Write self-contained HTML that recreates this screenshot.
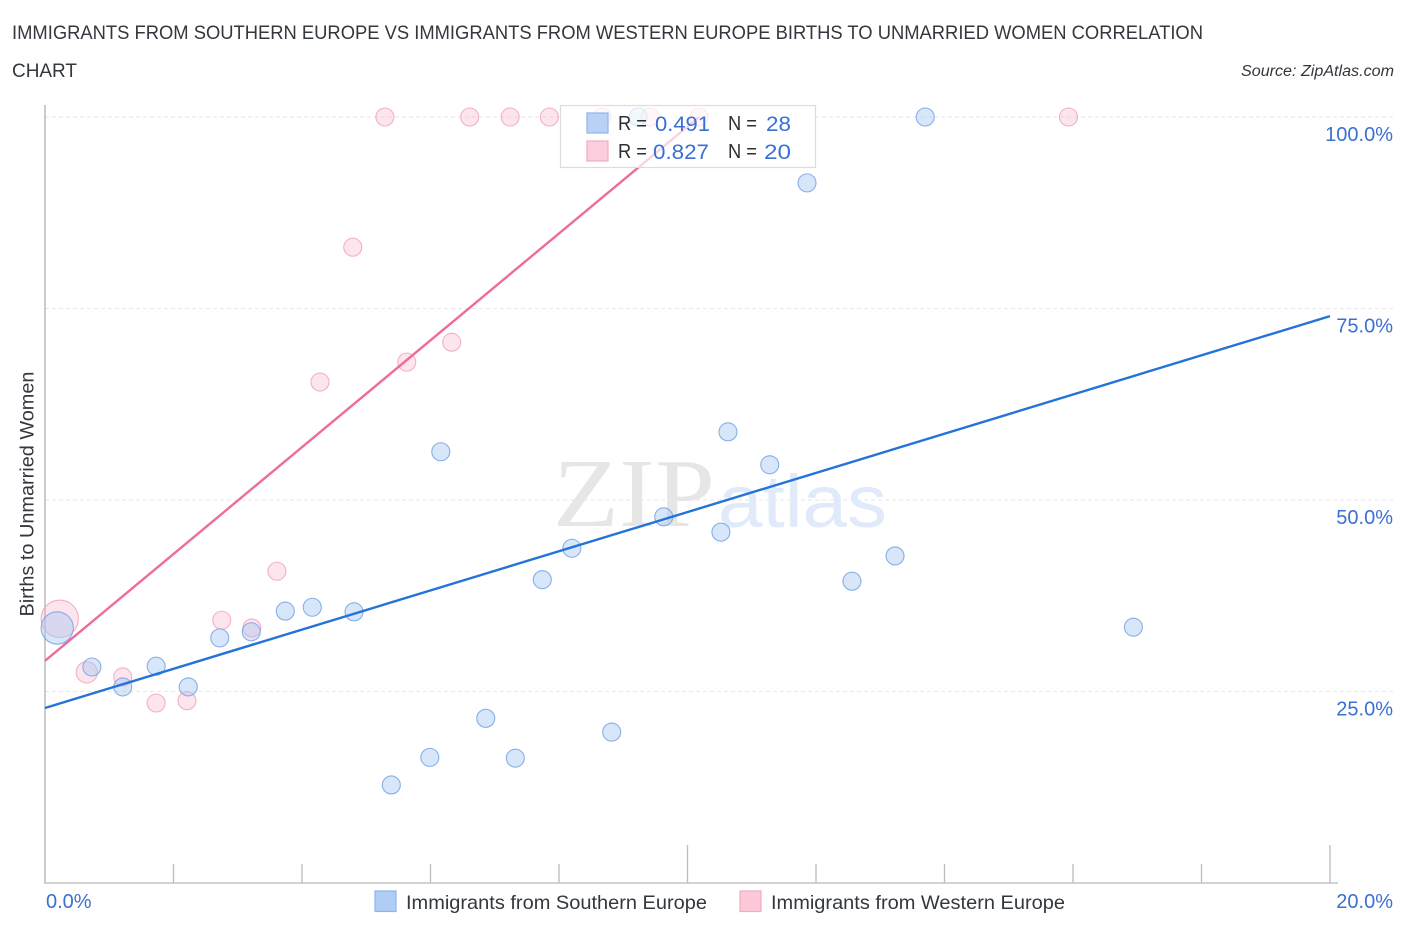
<!DOCTYPE html>
<html>
<head>
<meta charset="utf-8">
<title>Births to Unmarried Women Correlation Chart</title>
<style>
html,body{margin:0;padding:0;background:#fff;width:1406px;height:930px;overflow:hidden}
svg{display:block;font-family:"Liberation Sans",sans-serif}
</style>
</head>
<body>
<svg id="chart" xmlns="http://www.w3.org/2000/svg" width="1406" height="930" viewBox="0 0 1406 930">
  <text x="12" y="39" font-size="19.5" fill="#33373e" textLength="1191" lengthAdjust="spacingAndGlyphs">IMMIGRANTS FROM SOUTHERN EUROPE VS IMMIGRANTS FROM WESTERN EUROPE BIRTHS TO UNMARRIED WOMEN CORRELATION</text>
  <text x="12" y="77" font-size="19.5" fill="#33373e" textLength="65" lengthAdjust="spacingAndGlyphs">CHART</text>
  <text x="1241" y="76" font-size="15.5" font-style="italic" fill="#33363c" textLength="153" lengthAdjust="spacingAndGlyphs">Source: ZipAtlas.com</text>

  <g id="grid"></g>

  <g>
    <text x="553" y="526" font-family="'Liberation Serif',serif" font-size="97" fill="#e6e6e6" textLength="162" lengthAdjust="spacingAndGlyphs">ZIP</text>
    <text x="718" y="527" font-family="'Liberation Sans',sans-serif" font-size="74" fill="#e0eafa" textLength="169" lengthAdjust="spacingAndGlyphs">atlas</text>
  </g>

  <g id="axes"></g>
  <g id="points"></g>
  <g id="lines"></g>
  <g id="ylabels"></g>
  <g id="xlabels"></g>

  <text transform="translate(33.5,494) rotate(-90)" font-size="19" fill="#33373e" text-anchor="middle" textLength="245" lengthAdjust="spacingAndGlyphs">Births to Unmarried Women</text>

  <g>
    <rect x="560.5" y="105.5" width="255" height="62" fill="#ffffff" fill-opacity="0.7" stroke="#dcdcdc" stroke-width="1.2"/>
    <rect x="587" y="113" width="21" height="20" fill="#b0cdf5" fill-opacity="0.9" stroke="#8fb4ec" stroke-width="1.2"/>
    <rect x="587" y="141" width="21" height="20" fill="#fcc9d9" fill-opacity="0.9" stroke="#f5a9c2" stroke-width="1.2"/>
    <g font-size="20">
      <text x="618" y="130" fill="#2b2f36" textLength="29" lengthAdjust="spacingAndGlyphs">R =</text>
      <text x="655" y="131" font-size="21.5" fill="#3a70d2" textLength="55" lengthAdjust="spacingAndGlyphs">0.491</text>
      <text x="728" y="130" fill="#2b2f36" textLength="29" lengthAdjust="spacingAndGlyphs">N =</text>
      <text x="766" y="131" font-size="21.5" fill="#3a70d2" textLength="25" lengthAdjust="spacingAndGlyphs">28</text>
      <text x="618" y="158" fill="#2b2f36" textLength="29" lengthAdjust="spacingAndGlyphs">R =</text>
      <text x="653" y="159" font-size="21.5" fill="#3a70d2" textLength="56" lengthAdjust="spacingAndGlyphs">0.827</text>
      <text x="728" y="158" fill="#2b2f36" textLength="29" lengthAdjust="spacingAndGlyphs">N =</text>
      <text x="764" y="159" font-size="21.5" fill="#3a70d2" textLength="27" lengthAdjust="spacingAndGlyphs">20</text>
    </g>
  </g>

  <g>
    <rect x="375" y="891" width="21" height="20.5" fill="#b0cdf5" stroke="#8fb4ec" stroke-width="1.2"/>
    <text x="406" y="909" font-size="19.5" fill="#33373e" textLength="301" lengthAdjust="spacingAndGlyphs">Immigrants from Southern Europe</text>
    <rect x="740" y="891" width="21" height="20.5" fill="#fcc9d9" stroke="#f5a9c2" stroke-width="1.2"/>
    <text x="771" y="909" font-size="19.5" fill="#33373e" textLength="294" lengthAdjust="spacingAndGlyphs">Immigrants from Western Europe</text>
  </g>
</svg>
<script>
const southernX = [0.19,0.73,1.21,1.73,2.23,2.72,3.21,3.74,4.16,4.81,5.39,5.99,6.16,6.86,7.32,7.74,8.20,8.82,9.23,9.63,10.52,10.63,11.28,11.86,12.56,13.23,13.70,16.94];
const southernY = [33.3,28.2,25.6,28.3,25.6,32.0,32.8,35.5,36.0,35.4,12.8,16.4,56.3,21.5,16.3,39.6,43.7,19.7,100,47.8,45.8,58.9,54.6,91.4,39.4,42.7,100,33.4];
const southernWeight = [3.2,1,1,1,1,1,1,1,1,1,1,1,1,1,1,1,1,1,1,1,1,1,1,1,1,1,1,1];
const westernX = [0.23,0.65,1.21,1.73,2.21,2.75,3.22,3.61,4.28,4.79,5.29,5.63,6.33,6.61,7.24,7.85,8.67,9.42,10.18,15.93];
const westernY = [34.5,27.5,26.9,23.5,23.8,34.3,33.3,40.7,65.4,83.0,100,68.0,70.6,100,100,100,100,100,100,100];
const westernWeight = [4.3,1.4,1,1,1,1,1,1,1,1,1,1,1,1,1,1,1,1,1,1];
const southernTrendX = [0,20];
const southernTrendY = [22.85,74.0];
const westernTrendX = [0,10.18];
const westernTrendY = [29.0,100];
const yTicks = [25,50,75,100];
const yTickLabels = ["25.0%","50.0%","75.0%","100.0%"];
const xMinorTicks = [0,2,4,6,8,10,12,14,16,18,20];
const xTickLabels = ["0.0%","20.0%"];

const NS = "http://www.w3.org/2000/svg";
function xPos(v){ return 45 + v * 64.25; }
function yPos(v){ return 883 - v * 7.66; }
function make(tag, attrs, parent){
  const el = document.createElementNS(NS, tag);
  for (const k in attrs) el.setAttribute(k, attrs[k]);
  parent.appendChild(el);
  return el;
}
const gridG = document.getElementById('grid');
const axesG = document.getElementById('axes');
const pointsG = document.getElementById('points');
const linesG = document.getElementById('lines');
const yLabelsG = document.getElementById('ylabels');
const xLabelsG = document.getElementById('xlabels');

yTicks.forEach(function(t, i){
  const g = make('line', {x1:45, x2:1394, y1:yPos(t), y2:yPos(t), stroke:'#e6e6e6', 'stroke-width':1, 'stroke-dasharray':'4 3'}, gridG);
  
  
  const l = make('text', {x:1393, y:yPos(t) + 24, 'text-anchor':'end', 'font-size':20, fill:'#3a70d2'}, yLabelsG);
  l.textContent = yTickLabels[i];
  
  
});

const yAxis = make('line', {x1:45, x2:45, y1:105, y2:883, stroke:'#b5b5b5', 'stroke-width':1.4}, axesG);


const xAxis = make('line', {x1:44, x2:1338, y1:883, y2:883, stroke:'#c4c4c4', 'stroke-width':1.4}, axesG);


xMinorTicks.forEach(function(t){
  if (t === 0) return;
  const tall = (t === 10 || t === 20);
  const tick = make('line', {x1:xPos(t), x2:xPos(t), y1:tall ? 845 : 864, y2:883, stroke:'#bdbdbd', 'stroke-width':1.3}, axesG);
  
  
});

const x0Label = make('text', {x:46, y:908, 'font-size':20, fill:'#3a70d2'}, xLabelsG);
x0Label.textContent = xTickLabels[0];


const x1Label = make('text', {x:1393, y:908, 'text-anchor':'end', 'font-size':20, fill:'#3a70d2'}, xLabelsG);
x1Label.textContent = xTickLabels[1];



westernX.forEach(function(v, i){
  const c = make('circle', {cx:xPos(v), cy:yPos(westernY[i]), r:9 * Math.sqrt(westernWeight[i]), fill:'#f9a8c4', 'fill-opacity':0.3, stroke:'#f2a3bf', 'stroke-opacity':0.85, 'stroke-width':1.1}, pointsG);
  
  
});
southernX.forEach(function(v, i){
  const c = make('circle', {cx:xPos(v), cy:yPos(southernY[i]), r:9 * Math.sqrt(southernWeight[i]), fill:'#a9c8f2', 'fill-opacity':0.45, stroke:'#7ba7e6', 'stroke-opacity':0.9, 'stroke-width':1.1}, pointsG);
  
  
});

const blueLine = make('line', {x1:xPos(southernTrendX[0]), y1:yPos(southernTrendY[0]), x2:xPos(southernTrendX[1]), y2:yPos(southernTrendY[1]), stroke:'#2473d9', 'stroke-width':2.4}, linesG);


const pinkLine = make('line', {x1:xPos(westernTrendX[0]), y1:yPos(westernTrendY[0]), x2:xPos(westernTrendX[1]), y2:yPos(westernTrendY[1]), stroke:'#ee6b9a', 'stroke-width':2.4}, linesG);


</script>
</body>
</html>
